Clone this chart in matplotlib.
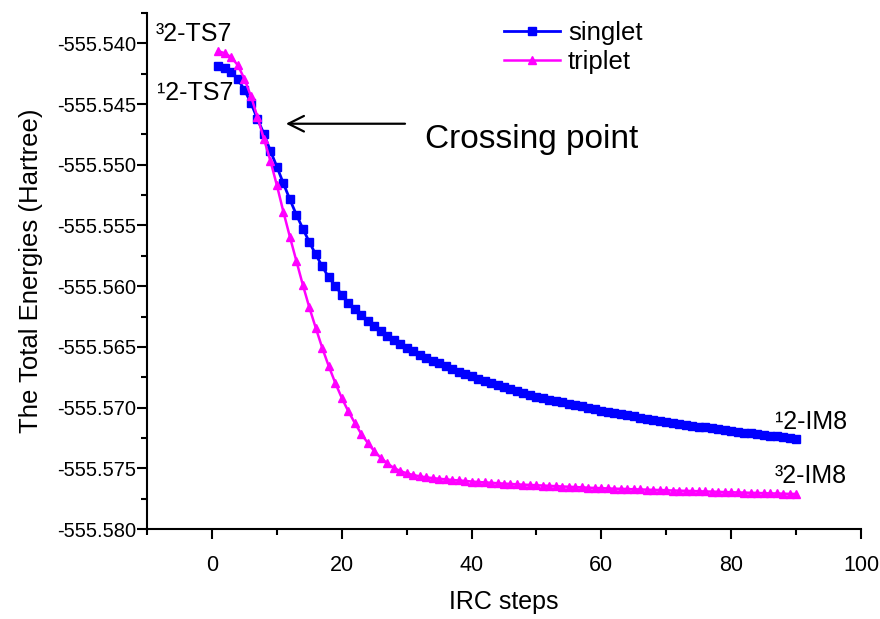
import matplotlib
matplotlib.use("Agg")
import matplotlib.pyplot as plt
from matplotlib.ticker import MultipleLocator, FormatStrFormatter

plt.rcParams['font.family'] = ['Liberation Sans', 'DejaVu Sans']

steps = list(range(1, 91))

singlet = [
    -555.54185, -555.54201, -555.54238, -555.54296, -555.54382, -555.54489, -555.54621, -555.54744, -555.54884, -555.55015,
    -555.55152, -555.55284, -555.55410, -555.55525, -555.55636, -555.55739, -555.55837, -555.55928, -555.55997, -555.56070,
    -555.56139, -555.56191, -555.56240, -555.56289, -555.56330, -555.56371, -555.56407, -555.56445, -555.56476, -555.56509,
    -555.56536, -555.56563, -555.56591, -555.56614, -555.56634, -555.56659, -555.56682, -555.56704, -555.56723, -555.56743,
    -555.56762, -555.56781, -555.56799, -555.56817, -555.56834, -555.56851, -555.56866, -555.56881, -555.56896, -555.56910,
    -555.56922, -555.56935, -555.56947, -555.56958, -555.56970, -555.56981, -555.56991, -555.57003, -555.57014, -555.57024,
    -555.57034, -555.57044, -555.57054, -555.57064, -555.57073, -555.57082, -555.57091, -555.57100, -555.57108, -555.57116,
    -555.57124, -555.57133, -555.57141, -555.57148, -555.57156, -555.57163, -555.57171, -555.57178, -555.57185, -555.57193,
    -555.57199, -555.57206, -555.57212, -555.57219, -555.57226, -555.57232, -555.57238, -555.57244, -555.57249, -555.57255,
]

triplet = [
    -555.54064, -555.54082, -555.54115, -555.54181, -555.54292, -555.54432, -555.54604, -555.54785, -555.54966, -555.55167,
    -555.55385, -555.55591, -555.55790, -555.55988, -555.56174, -555.56344, -555.56509, -555.56659, -555.56796, -555.56920,
    -555.57029, -555.57125, -555.57216, -555.57290, -555.57358, -555.57413, -555.57459, -555.57496, -555.57522, -555.57541,
    -555.57555, -555.57566, -555.57574, -555.57581, -555.57586, -555.57591, -555.57596, -555.57600, -555.57604, -555.57609,
    -555.57613, -555.57616, -555.57619, -555.57623, -555.57626, -555.57629, -555.57632, -555.57635, -555.57637, -555.57640,
    -555.57642, -555.57645, -555.57647, -555.57650, -555.57652, -555.57655, -555.57657, -555.57660, -555.57662, -555.57664,
    -555.57666, -555.57668, -555.57669, -555.57671, -555.57673, -555.57674, -555.57676, -555.57678, -555.57679, -555.57681,
    -555.57683, -555.57684, -555.57686, -555.57687, -555.57689, -555.57691, -555.57692, -555.57694, -555.57696, -555.57697,
    -555.57699, -555.57700, -555.57702, -555.57703, -555.57705, -555.57707, -555.57707, -555.57709, -555.57711, -555.57711,
]

series_names = ["singlet", "triplet"]
xticks = [0, 20, 40, 60, 80, 100]
yticks = [-555.580, -555.575, -555.570, -555.565, -555.560, -555.555, -555.550, -555.545, -555.540]

fig = plt.figure(figsize=(8.8, 6.19), dpi=100)
ax = fig.add_axes([147/880, 1 - 529/619, 714/880, 516/619])

ax.plot(steps, singlet, color='#0000FF', lw=2.0, marker='s', ms=5.5, mec='#0000FF', mfc='#0000FF',
        label=series_names[0])
ax.plot(steps, triplet, color='#FF00FF', lw=1.8, marker='^', ms=6, mec='#FF00FF', mfc='#FF00FF',
        label=series_names[1])

ax.set_xlim(-10, 100)
ax.set_ylim(-555.580, -555.5375)
ax.set_xticks(xticks)
ax.set_yticks(yticks)
ax.xaxis.set_minor_locator(MultipleLocator(10))
ax.yaxis.set_minor_locator(MultipleLocator(0.0025))
ax.yaxis.set_major_formatter(FormatStrFormatter('%.3f'))

for s in ['top', 'right']:
    ax.spines[s].set_visible(False)
for s in ['left', 'bottom']:
    ax.spines[s].set_linewidth(1.5)

ax.tick_params(axis='both', which='major', direction='out', length=7, width=1.5)
ax.tick_params(axis='both', which='minor', direction='out', length=4, width=1.5)
ax.tick_params(axis='y', which='major', labelsize=14.5, pad=1)
ax.tick_params(axis='x', which='major', labelsize=15.5, pad=12)

ax.set_xlabel('IRC steps', fontsize=18, labelpad=10)
ax.set_ylabel('The Total Energies (Hartree)', fontsize=18.5, labelpad=10)

leg = ax.legend(loc='upper left', bbox_to_anchor=(0.485, 1.005), frameon=False, fontsize=18.5,
                handlelength=2.2, handletextpad=0.3, labelspacing=0.2, borderaxespad=0, markerscale=1.0)

ax.text(-8.6, -555.53979, '\u00b32-TS7', fontsize=18, ha='left', va='baseline')
ax.text(-8.5, -555.54470, '\u00b92-TS7', fontsize=18, ha='left', va='baseline')
ax.text(86.7, -555.57180, '\u00b92-IM8', fontsize=18, ha='left', va='baseline')
ax.text(86.7, -555.57620, '\u00b32-IM8', fontsize=18, ha='left', va='baseline')

ax.annotate('', xy=(11.4, -555.54662), xytext=(29.75, -555.54662),
            arrowprops=dict(arrowstyle='->', lw=1.6, color='black', mutation_scale=28,
                            shrinkA=0, shrinkB=0))
ax.text(32.8, -555.54865, 'Crossing point', fontsize=24, ha='left', va='baseline')

fig.savefig('out.png', dpi=100)
